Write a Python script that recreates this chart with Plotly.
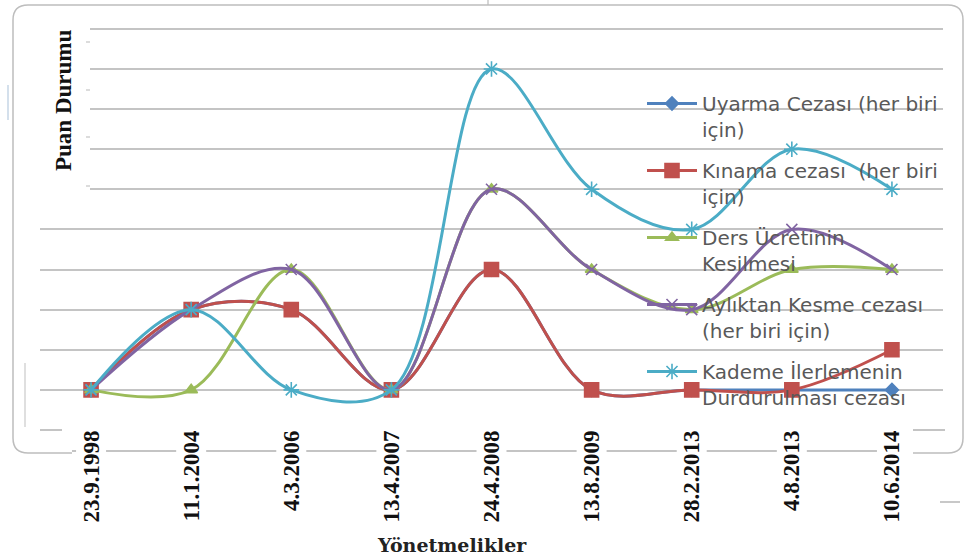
import plotly.graph_objects as go

# Regulation dates (category axis)
dates = ["23.9.1998", "11.1.2004", "4.3.2006", "13.4.2007", "24.4.2008",
         "13.8.2009", "28.2.2013", "4.8.2013", "10.6.2014"]

# Score per penalty type for each regulation
uyarma = [1, 3, 3, 1, 4, 1, 1, 1, 1]
kinama = [1, 3, 3, 1, 4, 1, 1, 1, 2]
ders = [1, 1, 4, 1, 6, 4, 3, 4, 4]
ayliktan = [1, 3, 4, 1, 6, 4, 3, 5, 4]
kademe = [1, 3, 1, 1, 9, 6, 5, 7, 6]

series_names = [
    "Uyarma Cezası (her biri<br>için)",
    "Kınama cezası  (her biri<br>için)",
    "Ders Ücretinin<br>Kesilmesi",
    "Aylıktan Kesme cezası<br>(her biri için)",
    "Kademe İlerlemenin<br>Durdurulması cezası",
]
series_values = [uyarma, kinama, ders, ayliktan, kademe]
colors = ["#4F81BD", "#C0504D", "#9BBB59", "#8064A2", "#4BACC6"]
symbols = ["diamond", "square", "triangle-up", "x-thin-open", "asterisk-open"]
msizes = [10, 14, 11, 11, 13]

W, H = 972, 558
L, R, T, B = 40, 943, 22, 425          # plot area in pixels
XR = [-0.51, 8.51]
YR = [0.125, 10.17]


def px(x):
    return (x - L) / (R - L)


def py(y):
    return (B - y) / (B - T)


def cat_px(i):
    return L + (i - XR[0]) / (XR[1] - XR[0]) * (R - L)


def val_of(y):
    return YR[0] + (B - y) / (B - T) * (YR[1] - YR[0])


def cat_of(x):
    return XR[0] + (x - L) / (R - L) * (XR[1] - XR[0])


fig = go.Figure()
for name, vals, c, s, ms in zip(series_names, series_values, colors, symbols, msizes):
    fig.add_trace(go.Scatter(
        x=dates, y=vals, name=name, mode="lines+markers",
        legendgroup=name,
        line=dict(color=c, width=3, shape="spline", smoothing=1.0),
        marker=dict(symbol=s, size=ms, color=c, line=dict(color=c, width=1.6)),
    ))

shapes = []
grey = "#c4c4c4"
# white panel behind the y-axis title, hiding the upper gridlines
shapes.append(dict(type="rect", xref="x", yref="y", layer="between",
                   x0=XR[0], x1=cat_of(90), y0=val_of(210), y1=YR[1],
                   fillcolor="white", line=dict(width=0)))
# small tick marks next to the title
for ty in [42, 90, 137, 186]:
    shapes.append(dict(type="line", xref="paper", yref="paper",
                       x0=px(86), x1=px(90), y0=py(ty), y1=py(ty),
                       line=dict(color="#d0d0d0", width=1.5)))
# short stubs of the bottom gridline
for x0, x1 in [(40, 62), (913, 945)]:
    shapes.append(dict(type="line", xref="paper", yref="paper",
                       x0=px(x0), x1=px(x1), y0=py(430), y1=py(430),
                       line=dict(color=grey, width=2)))
# category axis line, broken around each label
gap = 15
segs = [(72, cat_px(0) - gap)]
for i in range(len(dates) - 1):
    segs.append((cat_px(i) + gap, cat_px(i + 1) - gap))
for x0, x1 in segs:
    shapes.append(dict(type="line", xref="paper", yref="paper",
                       x0=px(x0), x1=px(x1), y0=py(451), y1=py(451),
                       line=dict(color=grey, width=2)))
# rounded chart frame
r = 15
fx0, fy0, fx1, fy1 = 13, 5, 963, 453


def P(x, y):
    return f"{px(x):.5f},{py(y):.5f}"


frame = (f"M {P(72, fy1)} L {P(fx0 + r, fy1)} Q {P(fx0, fy1)} {P(fx0, fy1 - r)} "
         f"L {P(fx0, fy0 + r)} Q {P(fx0, fy0)} {P(fx0 + r, fy0)} "
         f"L {P(fx1 - r, fy0)} Q {P(fx1, fy0)} {P(fx1, fy0 + r)} "
         f"L {P(fx1, fy1 - r)} Q {P(fx1, fy1)} {P(fx1 - r, fy1)} L {P(913, fy1)}")
shapes.append(dict(type="path", xref="paper", yref="paper", path=frame,
                   line=dict(color="#bdbdbd", width=1.5)))
# inner left edge and stray marks around the frame
shapes.append(dict(type="line", xref="paper", yref="paper",
                   x0=px(25), x1=px(25), y0=py(363), y1=py(427),
                   line=dict(color="#d5d5d5", width=1.5)))
shapes.append(dict(type="line", xref="paper", yref="paper",
                   x0=px(488), x1=px(488), y0=py(0), y1=py(5),
                   line=dict(color="#bbbbbb", width=1.2)))
shapes.append(dict(type="line", xref="paper", yref="paper",
                   x0=px(940), x1=px(960), y0=py(502), y1=py(502),
                   line=dict(color="#c8c8c8", width=2)))
shapes.append(dict(type="line", xref="paper", yref="paper",
                   x0=px(8), x1=px(8), y0=py(85), y1=py(120),
                   line=dict(color="#b8cbe0", width=1.2)))

annotations = [
    dict(text="Puan Durumu", xref="paper", yref="paper", x=px(64), y=py(101),
         xanchor="center", yanchor="middle",
         textangle=-90, showarrow=False,
         font=dict(family="Liberation Serif", size=23, color="#111111", weight="bold")),
    dict(text="Yönetmelikler", xref="paper", yref="paper", x=px(452), y=py(545),
         xanchor="center", yanchor="middle", showarrow=False,
         font=dict(family="DejaVu Serif", size=19, color="#222222", weight="bold")),
]

fig.update_layout(
    width=W, height=H,
    margin=dict(l=L, r=W - R, t=T, b=H - B, autoexpand=False),
    paper_bgcolor="white", plot_bgcolor="white",
    showlegend=True,
    legend=dict(x=px(642), y=py(84), xanchor="left", yanchor="top",
                bgcolor="rgba(0,0,0,0)", valign="top", tracegroupgap=12,
                font=dict(family="DejaVu Sans", size=20, color="#595959"),
                itemwidth=50),
    xaxis=dict(range=XR, showgrid=False, showline=False, zeroline=False,
               ticks="", tickangle=-90,
               tickfont=dict(family="Liberation Serif", size=23, color="#111111",
                             weight="bold")),
    yaxis=dict(range=YR, dtick=1, tick0=0, showgrid=True, gridcolor=grey,
               gridwidth=2, zeroline=False, showticklabels=False, showline=False),
    shapes=shapes, annotations=annotations,
)

fig.write_html("out.html")
